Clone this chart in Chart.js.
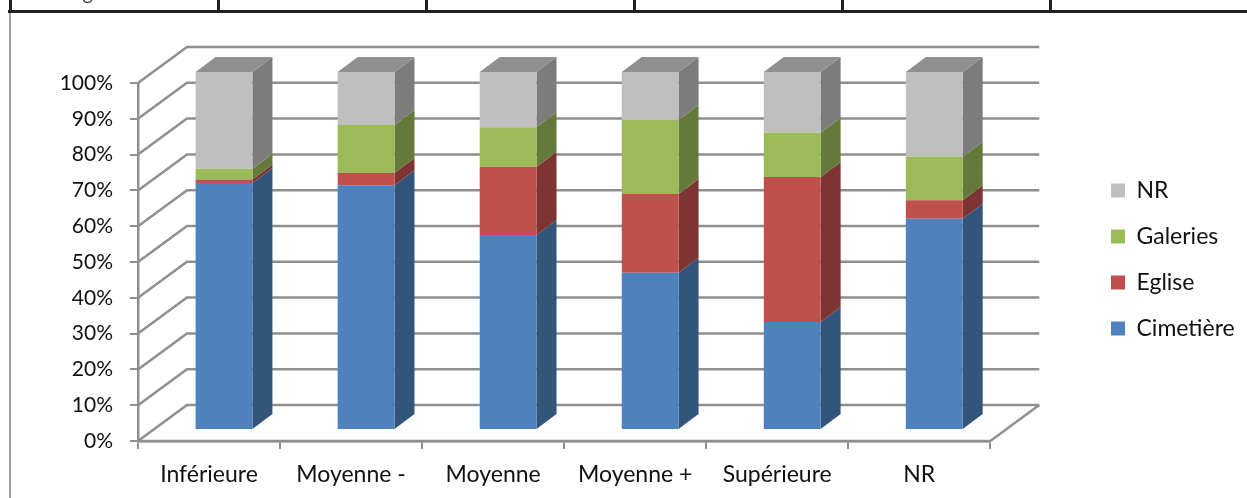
<!DOCTYPE html>
<html lang="fr">
<head>
<meta charset="utf-8">
<title>Répartition par catégorie</title>
<script src="https://cdn.jsdelivr.net/npm/chart.js@4/dist/chart.umd.min.js"></script>
<style>
    html, body { margin: 0; padding: 0; background: #fff; }
    #wrap { position: relative; width: 1247px; height: 498px; overflow: hidden; }
</style>
</head>
<body>
<div id="wrap"><canvas id="stackChart" width="1247" height="498"></canvas></div>
<script>
const categories = ['Inférieure', 'Moyenne -', 'Moyenne', 'Moyenne +', 'Supérieure', 'NR'];
const cimetiere = [69, 68.4, 54.5, 43.9, 30.2, 59];
const eglise = [1, 3.4, 19, 22, 40.5, 5.2];
const galeries = [3, 13.4, 11.1, 20.7, 12.3, 12.1];
const nr = [27, 14.8, 15.4, 13.4, 17, 23.7];
const yTicks = [0, 10, 20, 30, 40, 50, 60, 70, 80, 90, 100];
const cellEdges = [10, 218, 426, 634, 842, 1050];

const AXIS = '#8f8f8f';
const TEXT = '#111111';
const FONT = "Lato, 'Open Sans', sans-serif";

// 3D look: the bars sit a bit inside the floor, the side faces go up and to the right
const BAR_SHIFT = { x: 15, y: -11 };
const DEPTH = { x: 20, y: -15 };
const WALL = { x: 49, y: -36 };

function darken(hex, factor) {
    const n = parseInt(hex.slice(1), 16);
    const r = Math.round((n >> 16) * factor);
    const g = Math.round(((n >> 8) & 255) * factor);
    const b = Math.round((n & 255) * factor);
    return `rgb(${r}, ${g}, ${b})`;
}

function poly(ctx, pts, fill) {
    ctx.beginPath();
    pts.forEach((p, i) => i ? ctx.lineTo(p[0], p[1]) : ctx.moveTo(p[0], p[1]));
    ctx.closePath();
    ctx.fillStyle = fill;
    ctx.fill();
}

// Page strip above the chart: bottom of the table the chart was pasted under
const tableStrip = {
    id: 'tableStrip',
    beforeDraw(chart) {
        const ctx = chart.ctx;
        ctx.save();
        ctx.fillStyle = '#444444';
        ctx.font = `20px ${FONT}`;
        ctx.textBaseline = 'alphabetic';
        ctx.fillText('Total général', 35, 0);
        ctx.fillStyle = '#222222';
        ctx.fillRect(8, 10, 1239, 3);
        cellEdges.forEach(x => ctx.fillRect(x - 1, 0, 3, 11));
        ctx.fillStyle = '#a0a0a0';
        ctx.fillRect(9, 13, 2, 485);
        ctx.restore();
    }
};

// Side walls and back wall of the 3D frame
const wallGrid = {
    id: 'wallGrid',
    beforeDatasetsDraw(chart) {
        const { ctx, chartArea: area } = chart;
        const y = chart.scales.y;
        ctx.save();
        ctx.strokeStyle = AXIS;
        ctx.lineWidth = 2.5;
        yTicks.forEach(t => {
            const py = y.getPixelForValue(t);
            ctx.beginPath();
            ctx.moveTo(area.left, py);
            ctx.lineTo(area.left + WALL.x, py + WALL.y);
            ctx.lineTo(area.right + WALL.x, py + WALL.y);
            ctx.stroke();
        });
        ctx.beginPath();
        ctx.moveTo(area.left, y.getPixelForValue(0));
        ctx.lineTo(area.right, y.getPixelForValue(0));
        ctx.lineTo(area.right + WALL.x, y.getPixelForValue(0) + WALL.y);
        ctx.stroke();
        ctx.restore();
    }
};

// Shifts the bars onto the floor and adds the side and top faces from the bar elements
const bars3d = {
    id: 'bars3d',
    beforeDatasetsDraw(chart) {
        const ctx = chart.ctx;
        ctx.save();
        ctx.translate(BAR_SHIFT.x, BAR_SHIFT.y);
        chart.data.datasets.forEach((ds, i) => {
            chart.getDatasetMeta(i).data.forEach(bar => {
                const p = bar.getProps(['x', 'y', 'base', 'width'], true);
                const right = p.x + p.width / 2;
                poly(ctx, [[right, p.y], [right + DEPTH.x, p.y + DEPTH.y],
                    [right + DEPTH.x, p.base + DEPTH.y], [right, p.base]], darken(ds.backgroundColor, 0.65));
                if (i === chart.data.datasets.length - 1) {
                    const left = p.x - p.width / 2;
                    poly(ctx, [[left, p.y], [left + DEPTH.x, p.y + DEPTH.y],
                        [right + DEPTH.x, p.y + DEPTH.y], [right, p.y]], darken(ds.backgroundColor, 0.75));
                }
            });
        });
    },
    afterDatasetsDraw(chart) {
        chart.ctx.restore();
    }
};

// Legend stays in its own column, well right of the floor
const legendColumn = {
    id: 'legendColumn',
    afterLayout(chart) {
        const legend = chart.legend;
        legend.left = 1111 - legend.options.labels.padding;
        legend.right = 1247;
        legend.top -= 31;
        legend.bottom -= 31;
    }
};

function makeDataset(label, data, color) {
    return { label: label, data: data, backgroundColor: color, barPercentage: 0.4, categoryPercentage: 1 };
}

new Chart(document.getElementById('stackChart'), {
    type: 'bar',
    data: {
        labels: categories,
        datasets: [
            makeDataset('Cimetière', cimetiere, '#4f81bd'),
            makeDataset('Eglise', eglise, '#c0504d'),
            makeDataset('Galeries', galeries, '#9bbb59'),
            makeDataset('NR', nr, '#bfbfbf')
        ]
    },
    plugins: [tableStrip, wallGrid, bars3d, legendColumn],
    options: {
        responsive: false,
        animation: false,
        layout: { padding: { top: 83, right: 100, bottom: 0, left: 0 } },
        plugins: {
            tooltip: { enabled: false },
            legend: {
                position: 'right',
                reverse: true,
                labels: {
                    color: TEXT,
                    font: { family: FONT, size: 23 },
                    boxWidth: 14,
                    boxHeight: 14,
                    padding: 23
                }
            }
        },
        scales: {
            x: {
                stacked: true,
                afterFit(scale) { scale.height = 57; },
                border: { color: AXIS, width: 2.5 },
                grid: { drawOnChartArea: false, color: AXIS, lineWidth: 2, tickLength: 8 },
                ticks: { color: TEXT, font: { family: FONT, size: 23 }, padding: 12, maxRotation: 0 }
            },
            y: {
                stacked: true,
                min: 0,
                max: 100,
                afterFit(scale) { scale.width = 138; },
                afterBuildTicks(scale) { scale.ticks = yTicks.map(v => ({ value: v })); },
                border: { color: AXIS, width: 2.5 },
                grid: { drawOnChartArea: false, color: AXIS, lineWidth: 2, tickLength: 8 },
                ticks: {
                    color: TEXT,
                    font: { family: FONT, size: 21 },
                    padding: 17,
                    callback: v => v + '%'
                }
            }
        }
    }
});
</script>
</body>
</html>
